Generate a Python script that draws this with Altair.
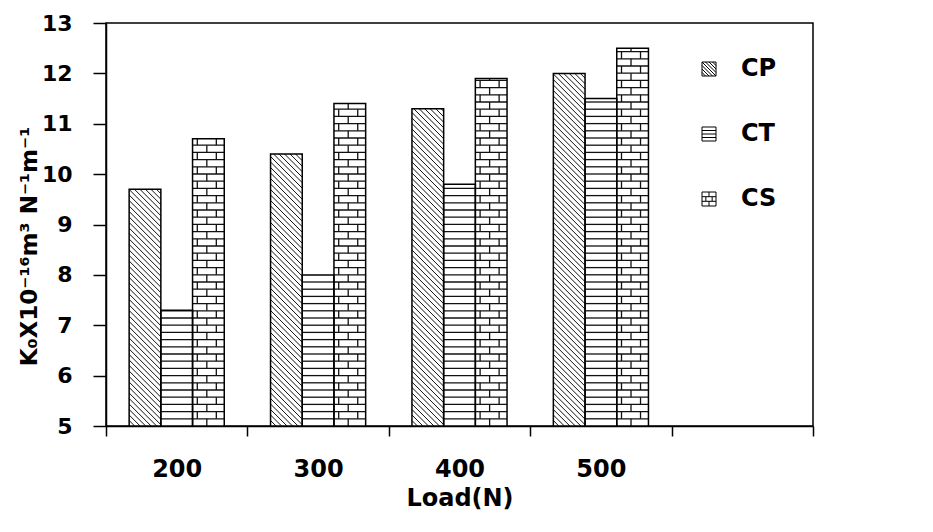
import json
import altair as alt
import pandas as pd

# ---- data ----
loads = [200, 300, 400, 500]
series_names = ["CP", "CT", "CS"]
cp_values = [9.7, 10.4, 11.3, 12.0]
ct_values = [7.3, 8.0, 9.8, 11.5]
cs_values = [10.7, 11.4, 11.9, 12.5]
x_tick_values = [150, 250, 350, 450, 550, 650]
y_tick_values = [5, 6, 7, 8, 9, 10, 11, 12, 13]

# ---- layout / style constants ----
W, H = 707, 403
X_MIN, X_MAX = 150, 650
Y_MIN, Y_MAX = 5, 13
PXX = W / (X_MAX - X_MIN)          # px per x unit
PXY = H / (Y_MAX - Y_MIN)          # px per y unit
BAR_W = 31.7 / PXX                 # bar width in x units
ROW = 7.2 / PXY                    # stripe / brick row height in y units
DIAG = 5.5                         # diagonal hatch spacing (px)
FONT = "DejaVu Sans"

rows = []
for name, vals in zip(series_names, [cp_values, ct_values, cs_values]):
    for load, v in zip(loads, vals):
        rows.append({"load": load, "series": name, "value": v})
df = pd.DataFrame(rows)

XS = alt.Scale(domain=[X_MIN, X_MAX], nice=False, zero=False)
YS = alt.Scale(domain=[Y_MIN, Y_MAX], nice=False, zero=False)
XAX = alt.Axis(
    values=x_tick_values,
    labelExpr="datum.value < 500 ? format(datum.value + 50, 'd') : ''",
    labelOffset=W / 10,
    labelOverlap=False, labelBound=False, labelFlush=False,
    labelFont=FONT, labelFontSize=24, labelFontWeight="bold", labelColor="black",
    labelPadding=21, tickSize=10, tickWidth=1.5, tickColor="black",
    domainColor="black", domainWidth=1.5, grid=False,
    title="Load(N)", titleFont=FONT, titleFontSize=24, titleFontWeight="bold",
    titleColor="black", titleBaseline="alphabetic", titleY=79,
)
YAX = alt.Axis(
    values=y_tick_values, format="d",
    labelFont=FONT, labelFontSize=22, labelFontWeight="bold", labelColor="black",
    labelPadding=21, tickSize=13, tickWidth=1.5, tickColor="black",
    domainColor="black", domainWidth=1.5, grid=False,
    title="K₀X10⁻¹⁶m³ N⁻¹m⁻¹", titleFont=FONT, titleFontSize=23,
    titleFontWeight="bold", titleColor="black", titleAngle=270,
    titleBaseline="alphabetic", titleAlign="center", titleX=-70, titleY=223,
)


def xenc(field):
    return alt.X(field, type="quantitative", scale=XS, axis=XAX)


def yenc(field):
    return alt.Y(field, type="quantitative", scale=YS, axis=YAX)


names_js = json.dumps(series_names)
base = (
    alt.Chart(df)
    .transform_calculate(idx=f"indexof({names_js}, datum.series)")
    .transform_calculate(xl=f"datum.load + (datum.idx - 1.5) * {BAR_W}")
    .transform_calculate(xr=f"datum.xl + {BAR_W}")
)

bars_fill = base.mark_rect(color="white").encode(
    x=xenc("xl"), x2="xr:Q", y=yenc("value"), y2=alt.datum(Y_MIN)
)

# diagonal hatch (CP)
cp_hatch = (
    base.transform_filter("datum.series == 'CP'")
    .transform_calculate(w=f"(datum.xr - datum.xl) * {PXX}")
    .transform_calculate(h=f"(datum.value - {Y_MIN}) * {PXY}")
    .transform_calculate(cs=f"sequence({DIAG}, datum.w + datum.h, {DIAG})")
    .transform_flatten(["cs"], as_=["c"])
    .transform_calculate(u1="max(0, datum.c - datum.h)")
    .transform_calculate(u2="min(datum.w, datum.c)")
    .transform_calculate(hx1=f"datum.xl + datum.u1 / {PXX}")
    .transform_calculate(hy1=f"{Y_MIN} + (datum.c - datum.u1) / {PXY}")
    .transform_calculate(hx2=f"datum.xl + datum.u2 / {PXX}")
    .transform_calculate(hy2=f"{Y_MIN} + (datum.c - datum.u2) / {PXY}")
    .mark_rule(color="#111111", strokeWidth=1)
    .encode(x=xenc("hx1"), y=yenc("hy1"), x2="hx2:Q", y2="hy2:Q")
)

# horizontal lines (CT stripes and CS brick courses)
h_lines = (
    base.transform_filter("datum.series != 'CP'")
    .transform_calculate(ys=f"sequence({Y_MIN} + {ROW}, datum.value, {ROW})")
    .transform_flatten(["ys"], as_=["yy"])
    .mark_rule(color="#111111", strokeWidth=1.3)
    .encode(x=xenc("xl"), x2="xr:Q", y=yenc("yy"))
)

# brick joints (CS)
joints = (
    base.transform_filter("datum.series == 'CS'")
    .transform_calculate(nrow=f"ceil((datum.value - {Y_MIN}) / {ROW})")
    .transform_calculate(ks="sequence(0, datum.nrow)")
    .transform_flatten(["ks"], as_=["k"])
    .transform_calculate(js="datum.k % 2 == 0 ? [0.45] : [0.15, 0.75]")
    .transform_flatten(["js"], as_=["j"])
    .transform_calculate(jx=f"datum.xl + datum.j * {BAR_W}")
    .transform_calculate(yb=f"{Y_MIN} + datum.k * {ROW}")
    .transform_calculate(yt=f"min(datum.yb + {ROW}, datum.value)")
    .mark_rule(color="#111111", strokeWidth=1.3)
    .encode(x=xenc("jx"), y=yenc("yb"), y2="yt:Q")
)

bars_outline = base.mark_rect(fillOpacity=0, stroke="black", strokeWidth=1.5).encode(
    x=xenc("xl"), x2="xr:Q", y=yenc("value"), y2=alt.datum(Y_MIN)
)

SQ = "M-1,-1H1V1H-1Z"
p_cp = SQ + " M-1,-0.5L0.5,1 M-1,0L0,1 M-1,0.5L-0.5,1 M-1,-1L1,1 M-0.5,-1L1,0.5 M0,-1L1,0 M0.5,-1L1,-0.5"
p_ct = SQ + " M-1,-0.5H1 M-1,0H1 M-1,0.5H1"
p_cs = SQ + " M-1,-0.33H1 M-1,0.33H1 M0,-1V-0.33 M-0.45,-0.33V0.33 M0.45,-0.33V0.33 M0,0.33V1"

legend_pts = base.mark_point(filled=False, color="black", opacity=0).encode(
    x=xenc("xl"),
    y=yenc("value"),
    shape=alt.Shape(
        "series:N",
        scale=alt.Scale(domain=series_names, range=[p_cp, p_ct, p_cs]),
        legend=alt.Legend(
            title=None, orient="none", legendX=591, legendY=34, padding=0,
            symbolSize=196, symbolStrokeWidth=1, symbolStrokeColor="black",
            symbolFillColor="white", symbolOpacity=1,
            labelFont=FONT, labelFontSize=24, labelFontWeight="bold",
            labelColor="black", labelOffset=20, rowPadding=41,
        ),
    ),
)

chart = (
    alt.layer(bars_fill, cp_hatch, h_lines, joints, bars_outline, legend_pts)
    .properties(
        width=W, height=H,
        autosize=alt.AutoSizeParams(type="none"),
        padding={"left": 106, "top": 23, "right": 120, "bottom": 106},
        background="white",
    )
    .configure_view(stroke="black", strokeWidth=1.5)
)

chart.save("out.html", embed_options={"renderer": "svg", "actions": False})
